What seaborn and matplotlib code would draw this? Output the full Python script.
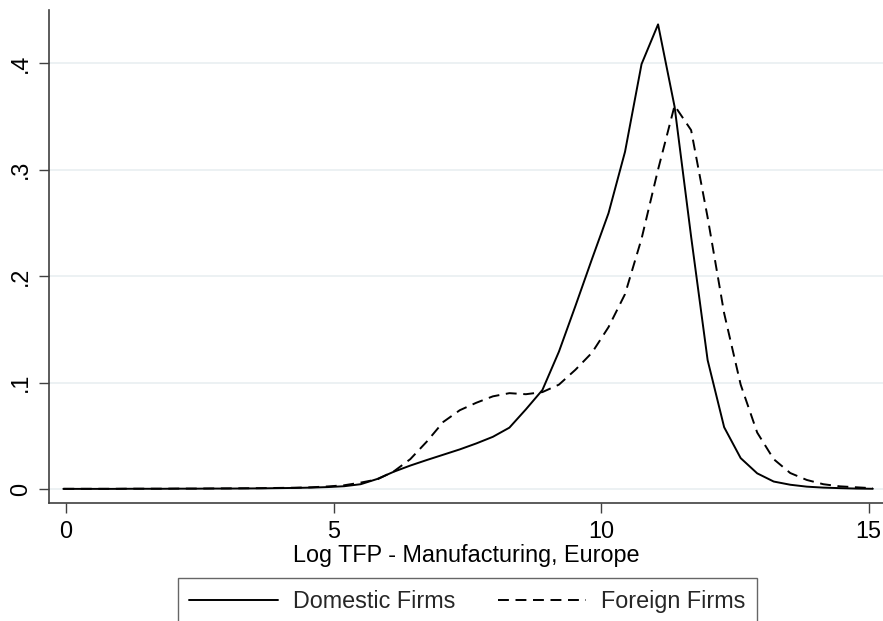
import numpy as np
import pandas as pd
import matplotlib
matplotlib.use("Agg")
import matplotlib.pyplot as plt
import seaborn as sns

# Evaluation grid of the kernel density (50 points)
x_grid = list(np.linspace(-0.05, 15.08, 50))

domestic = [0.0001, 0.0001, 0.0001, 0.0001, 0.0002, 0.0002, 0.0002, 0.0003, 0.0003, 0.0004,
            0.0004, 0.0005, 0.0006, 0.0008, 0.0010, 0.0013, 0.0018, 0.0026, 0.0045, 0.0094,
            0.0162, 0.0220, 0.0272, 0.0322, 0.0372, 0.0428, 0.0490, 0.0576, 0.0748, 0.0930,
            0.1290, 0.1720, 0.2160, 0.2590, 0.3167, 0.3990, 0.4363, 0.3590, 0.2370, 0.1210,
            0.0580, 0.0290, 0.0147, 0.0070, 0.0040, 0.0022, 0.0013, 0.0008, 0.0004, 0.0002]

foreign = [0.0002, 0.0002, 0.0002, 0.0002, 0.0003, 0.0003, 0.0003, 0.0004, 0.0004, 0.0005,
           0.0006, 0.0007, 0.0008, 0.0010, 0.0012, 0.0016, 0.0024, 0.0035, 0.0060, 0.0090,
           0.0165, 0.0280, 0.0445, 0.0630, 0.0740, 0.0810, 0.0870, 0.0900, 0.0890, 0.0910,
           0.0980, 0.1120, 0.1280, 0.1520, 0.1830, 0.2350, 0.3000, 0.3600, 0.3370, 0.2550,
           0.1650, 0.0980, 0.0530, 0.0280, 0.0150, 0.0085, 0.0045, 0.0025, 0.0016, 0.0007]

series_names = ["Domestic Firms", "Foreign Firms"]
x_ticks = [0, 5, 10, 15]
y_ticks = [0, 0.1, 0.2, 0.3, 0.4]
y_ticklabels = ["0", ".1", ".2", ".3", ".4"]
x_label = "Log TFP - Manufacturing, Europe"

df = pd.DataFrame({
    "x": x_grid * 2,
    "density": domestic + foreign,
    "group": [series_names[0]] * len(x_grid) + [series_names[1]] * len(x_grid),
})

sns.set_theme(style="white")
plt.rcParams["font.family"] = ["Liberation Sans", "DejaVu Sans"]

FS = 16.8

fig = plt.figure(figsize=(8.83, 6.21), dpi=100)
ax = fig.add_axes([49 / 883, 1 - 503 / 621, 1 - 49 / 883, (503 - 10) / 621])

ax.grid(False)
for yv in y_ticks:
    ax.axhline(yv, color="#eaf0f2", lw=1.3, zorder=0)

sns.lineplot(data=df, x="x", y="density", hue="group", style="group",
             palette={series_names[0]: "black", series_names[1]: "black"},
             dashes={series_names[0]: "", series_names[1]: (5.6, 3.4)},
             linewidth=1.4, ax=ax, legend=True)

ax.set_xlim(-0.318, 15.27)
ax.set_ylim(-0.01315, 0.4498)
ax.set_xticks(x_ticks)
ax.set_xticklabels([str(t) for t in x_ticks])
ax.set_yticks(y_ticks)
ax.set_yticklabels(y_ticklabels, rotation=90, va="center")
ax.tick_params(axis="both", which="major", direction="out", length=7, width=1.0,
               color="#404040", labelsize=FS, pad=5, labelcolor="black")
ax.tick_params(axis="x", bottom=True)
ax.tick_params(axis="y", left=True)

ax.set_xlabel(x_label, fontsize=FS, labelpad=1, color="black")
ax.set_ylabel("")

for side in ["top", "right"]:
    ax.spines[side].set_visible(False)
for side in ["left", "bottom"]:
    ax.spines[side].set_color("#404040")
    ax.spines[side].set_linewidth(1.2)

handles, labels = ax.get_legend_handles_labels()
ax.get_legend().remove()
leg = fig.legend(handles, labels, loc="upper center", bbox_to_anchor=(467.5 / 883, 1 - 578 / 621),
                 ncol=2, frameon=True, fancybox=False, fontsize=FS, handlelength=3.8,
                 handletextpad=0.65, columnspacing=1.8, borderpad=0.5, borderaxespad=0)
leg.get_frame().set_edgecolor("#404040")
leg.get_frame().set_linewidth(1.0)
for line in leg.get_lines():
    line.set_linewidth(1.4)

fig.savefig("out.png", dpi=100)
